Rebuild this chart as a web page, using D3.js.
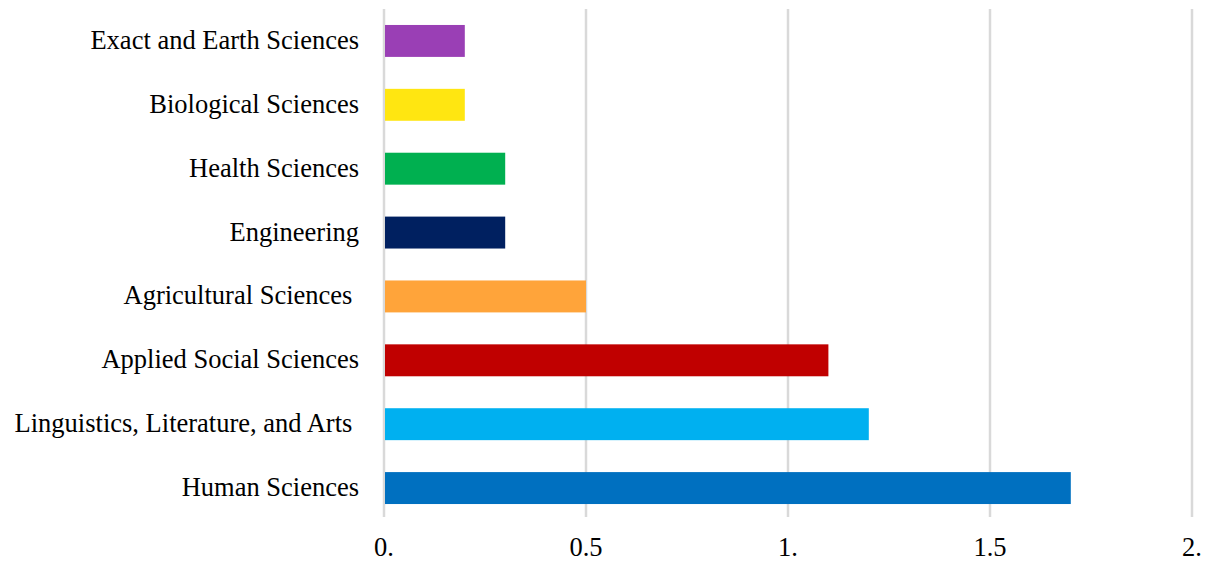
<!DOCTYPE html>
<html>
<head>
<meta charset="utf-8">
<script src="https://cdn.jsdelivr.net/npm/d3@7"></script>
<style>
  body { margin: 0; background: #fff; }
  text { font-family: "Liberation Serif", "Times New Roman", serif; white-space: pre; }
</style>
</head>
<body>
<svg width="1210" height="562"></svg>
<script>
const categories = ['Exact and Earth Sciences', 'Biological Sciences', 'Health Sciences', 'Engineering',
                    'Agricultural Sciences ', 'Applied Social Sciences', 'Linguistics, Literature, and Arts ', 'Human Sciences'];
const values = [0.2, 0.2, 0.3, 0.3, 0.5, 1.1, 1.2, 1.7];
const barColors = ['#9a3fb5', '#ffe611', '#00b050', '#002060', '#ffa43a', '#c00000', '#00b0f0', '#0070c0'];
const xTicks = [0, 0.5, 1, 1.5, 2];
const xTickLabels = ['0.', '0.5', '1.', '1.5', '2.'];

const svg = d3.select('svg');
const margin = { top: 9, right: 18, bottom: 42, left: 384 };
const width = +svg.attr('width');
const height = +svg.attr('height');
const fontSize = 26.5;

const x = d3.scaleLinear().domain([0, 2]).range([margin.left, width - margin.right]);
const y = d3.scaleBand().domain(categories).range([margin.top, height - margin.bottom]).paddingInner(0.5).paddingOuter(0.25);

// gridlines
svg.append('g')
   .selectAll('line')
   .data(xTicks)
   .join('line')
   .attr('x1', d => x(d)).attr('x2', d => x(d))
   .attr('y1', margin.top).attr('y2', height - margin.bottom - 3)
   .attr('stroke', '#d9d9d9')
   .attr('stroke-width', 2.5);

// bars
svg.append('g')
   .selectAll('rect')
   .data(values)
   .join('rect')
   .attr('x', x(0) + 1)
   .attr('y', (d, i) => y(categories[i]))
   .attr('width', d => x(d) - x(0) - 1)
   .attr('height', y.bandwidth())
   .attr('fill', (d, i) => barColors[i]);

// category labels
svg.append('g')
   .selectAll('text')
   .data(categories)
   .join('text')
   .attr('x', margin.left - 25)
   .attr('y', d => y(d) + y.bandwidth() / 2)
   .attr('dy', '0.3em')
   .attr('text-anchor', 'end')
   .attr('font-size', fontSize)
   .attr('fill', '#000')
   .text(d => d);

// x tick labels
svg.append('g')
   .selectAll('text')
   .data(xTicks)
   .join('text')
   .attr('x', d => x(d))
   .attr('y', 548)
   .attr('dy', '0.32em')
   .attr('text-anchor', 'middle')
   .attr('font-size', fontSize)
   .attr('fill', '#000')
   .text((d, i) => xTickLabels[i]);
</script>
</body>
</html>
